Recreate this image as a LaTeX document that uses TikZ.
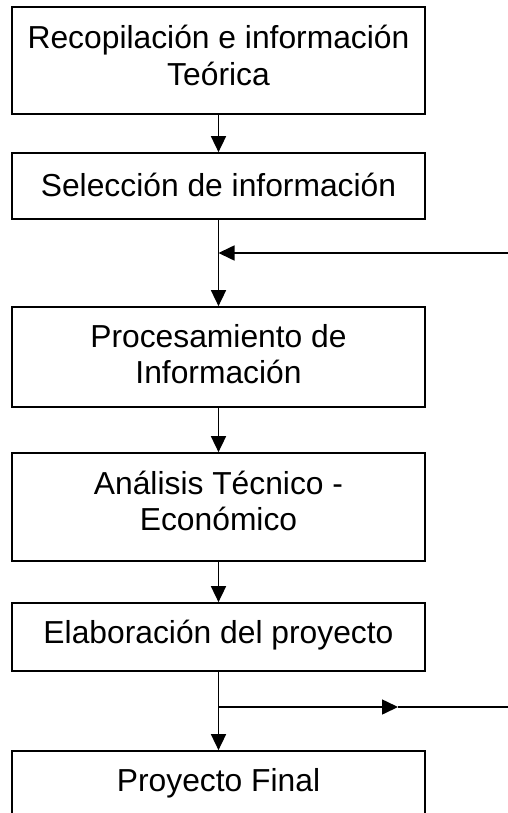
\documentclass[tikz,border=0pt]{standalone}
\usepackage{fontspec}
\setmainfont{Liberation Sans}
\usetikzlibrary{arrows.meta}
\begin{document}
\begin{tikzpicture}[x=1pt,y=-1pt,
  box/.style={draw=black, line width=1.7pt, rectangle, minimum width=413pt, inner sep=0pt},
  txt/.style={align=center, inner sep=0pt, font=\fontsize{31.8}{36.5}\selectfont},
  arr/.style={line width=1.6pt, -{Triangle[length=16pt,width=15pt]}},
  ln/.style={line width=1.6pt}]
\useasboundingbox (0,0) rectangle (508,813);
\clip (0,0) rectangle (508,813);
\node[box, minimum height=107pt, label={[txt, yshift=5pt]center:Recopilación e información\\Teórica}] (b1) at (218.5,60.5) {};
\node[box, minimum height=66pt, label={[txt, yshift=1pt]center:Selección de información}] (b2) at (218.5,186) {};
\node[box, minimum height=100pt, label={[txt, yshift=3pt]center:Procesamiento de\\Información}] (b3) at (218.5,357) {};
\node[box, minimum height=108pt, label={[txt, yshift=6pt]center:Análisis Técnico -\\Económico}] (b4) at (218.5,507) {};
\node[box, minimum height=68pt, label={[txt, yshift=2pt]center:Elaboración del proyecto}] (b5) at (218.5,637) {};
\node[box, minimum height=68pt, label={[txt, yshift=2pt]center:Proyecto Final}] (b6) at (218.5,785) {};
\coordinate (j1) at (218.5,253);
\coordinate (r1) at (510,253);
\coordinate (j2) at (218.5,707);
\coordinate (m2) at (398,707);
\coordinate (r2) at (510,707);
\draw[arr] (b1.south) -- (b2.north);
\draw[arr] (b2.south) -- (b3.north);
\draw[arr] (r1) -- (j1);
\draw[arr] (b3.south) -- (b4.north);
\draw[arr] (b4.south) -- (b5.north);
\draw[arr] (b5.south) -- (b6.north);
\draw[arr] (j2) -- (m2);
\draw[ln] (m2) -- (r2);
\end{tikzpicture}
\end{document}
